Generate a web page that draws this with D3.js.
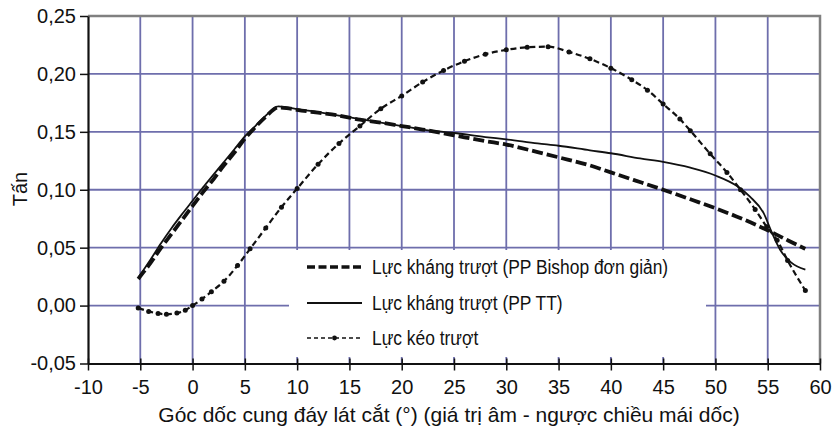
<!DOCTYPE html>
<html>
<head>
<meta charset="utf-8">
<script src="https://cdn.jsdelivr.net/npm/d3@7"></script>
<style>
  body { margin: 0; background: #fff; }
  svg { display: block; }
  text { font-family: "Liberation Sans", Arial, sans-serif; fill: #111; }
</style>
</head>
<body>
<svg width="834" height="431"></svg>
<script>
// values (angle in degrees, force in tonnes)
var angleBishop = [-5.2, -4, -3, -2, -1, 0, 1, 2, 3, 4, 5, 6, 7, 8.2, 9, 10, 12, 14, 16, 18, 20, 22, 25, 28, 30, 33, 35, 38, 40, 43, 45, 48, 50, 52, 55, 57, 58.6];
var forceBishop = [0.023, 0.037, 0.050, 0.062, 0.074, 0.086, 0.098, 0.109, 0.121, 0.132, 0.144, 0.154, 0.163, 0.171, 0.1705, 0.169, 0.1665, 0.164, 0.1605, 0.158, 0.155, 0.152, 0.147, 0.142, 0.139, 0.1325, 0.128, 0.121, 0.115, 0.106, 0.100, 0.0905, 0.084, 0.077, 0.065, 0.056, 0.049];

var angleTT = [-5.2, -4, -3, -2, -1, 0, 1, 2, 3, 4, 5, 6, 7, 8.2, 9, 10, 12, 14, 16, 18, 20, 22, 25, 28, 30, 33, 35, 38, 40, 42.8, 45, 47.6, 50, 52.1, 53.3, 54.6, 55.4, 56.2, 57.2, 58.6];
var forceTT = [0.024, 0.040, 0.054, 0.067, 0.079, 0.0905, 0.102, 0.113, 0.124, 0.135, 0.146, 0.155, 0.164, 0.172, 0.1712, 0.1697, 0.167, 0.164, 0.161, 0.158, 0.155, 0.152, 0.149, 0.1455, 0.1435, 0.140, 0.138, 0.134, 0.1315, 0.127, 0.124, 0.119, 0.1123, 0.103, 0.094, 0.080, 0.063, 0.048, 0.0375, 0.031];

var angleKeo = [-5.2, -4.2, -3.3, -2.5, -1.5, -0.7, 0, 0.9, 1.8, 3, 4.3, 5.5, 7, 8.5, 10, 12, 14, 16, 18, 20, 22, 24, 26, 28, 30, 32, 34, 36, 38, 40, 42, 43.5, 45, 46.6, 47.6, 49.5, 51.1, 52.4, 53.8, 54.9, 55.9, 56.9, 58.6];
var forceKeo = [-0.002, -0.005, -0.0068, -0.0075, -0.0065, -0.004, 0.000, 0.0056, 0.012, 0.021, 0.0346, 0.049, 0.067, 0.085, 0.101, 0.122, 0.140, 0.155, 0.170, 0.181, 0.193, 0.203, 0.211, 0.217, 0.2208, 0.223, 0.2235, 0.219, 0.213, 0.205, 0.195, 0.186, 0.174, 0.161, 0.151, 0.131, 0.115, 0.100, 0.083, 0.068, 0.0565, 0.039, 0.013];

var xTicks = [-10, -5, 0, 5, 10, 15, 20, 25, 30, 35, 40, 45, 50, 55, 60];
var xTickLabels = ['-10', '-5', '0', '5', '10', '15', '20', '25', '30', '35', '40', '45', '50', '55', '60'];
var yTicks = [-0.05, 0, 0.05, 0.10, 0.15, 0.20, 0.25];
var yTickLabels = ['-0,05', '0,00', '0,05', '0,10', '0,15', '0,20', '0,25'];
var legendLabels = ['Lực kháng trượt (PP Bishop đơn giản)', 'Lực kháng trượt (PP TT)', 'Lực kéo trượt'];

var svg = d3.select('svg');
var plotLeft = 88, plotRight = 820, plotTop = 16, plotBottom = 363.5;
var gridColor = '#6e6eac';

var x = d3.scaleLinear().domain([-10, 60]).range([plotLeft, plotRight]);
var y = d3.scaleLinear().domain([-0.05, 0.25]).range([plotBottom, plotTop]);

// grid
svg.append('g').selectAll('line')
   .data(xTicks.filter(function(d) { return d > -10 && d < 60; }))
   .enter().append('line')
     .attr('x1', function(d) { return x(d); })
     .attr('x2', function(d) { return x(d); })
     .attr('y1', y(-0.05))
     .attr('y2', y(0.25))
     .attr('stroke', gridColor)
     .attr('stroke-width', 1.8);

svg.append('g').selectAll('line')
   .data(yTicks.filter(function(d) { return d > -0.05 && d < 0.25; }))
   .enter().append('line')
     .attr('x1', plotLeft)
     .attr('x2', plotRight)
     .attr('y1', function(d) { return y(d); })
     .attr('y2', function(d) { return y(d); })
     .attr('stroke', gridColor)
     .attr('stroke-width', 1.8);

// top and right frame
svg.append('path')
   .attr('d', 'M' + plotLeft + ',' + y(0.25) + 'H' + x(60) + 'V' + y(-0.05))
   .attr('fill', 'none')
   .attr('stroke', '#808080')
   .attr('stroke-width', 2.5);

// legend box hides grid
var legend = svg.append('g');
legend.append('rect')
   .attr('x', 289).attr('y', 250)
   .attr('width', 417).attr('height', 107)
   .attr('fill', '#fff');

// curves
var line = d3.line()
  .x(function(d) { return x(d[0]); })
  .y(function(d) { return y(d[1]); })
  .curve(d3.curveMonotoneX);

var keo = d3.zip(angleKeo, forceKeo);

svg.append('path')
   .attr('d', line(keo))
   .attr('fill', 'none')
   .attr('stroke', '#111')
   .attr('stroke-width', 2.2)
   .attr('stroke-dasharray', '6,3.5');

svg.append('g').selectAll('circle')
   .data(keo)
   .enter().append('circle')
     .attr('cx', function(d) { return x(d[0]); })
     .attr('cy', function(d) { return y(d[1]); })
     .attr('r', 2.5)
     .attr('fill', '#111');

svg.append('path')
   .attr('d', line(d3.zip(angleTT, forceTT)))
   .attr('fill', 'none')
   .attr('stroke', '#111')
   .attr('stroke-width', 1.8);

svg.append('path')
   .attr('d', line(d3.zip(angleBishop, forceBishop)))
   .attr('fill', 'none')
   .attr('stroke', '#111')
   .attr('stroke-width', 3.8)
   .attr('stroke-dasharray', '11,4');

// legend entries
var styles = [
  { width: 3.6, dash: '8,3.5' },
  { width: 1.9, dash: null },
  { width: 1.7, dash: '4,3' }
];
var rowY = [267, 303, 338];

legendLabels.forEach(function(label, i) {
  legend.append('line')
     .attr('x1', 307).attr('x2', 362)
     .attr('y1', rowY[i]).attr('y2', rowY[i])
     .attr('stroke', '#111')
     .attr('stroke-width', styles[i].width)
     .attr('stroke-dasharray', styles[i].dash);
  if (i === 2) {
    legend.append('circle')
       .attr('cx', 334.5).attr('cy', rowY[i]).attr('r', 2.4)
       .attr('fill', '#111');
  }
  legend.append('text')
     .attr('transform', 'translate(372,' + (rowY[i] + 7) + ') scale(0.87,1)')
     .attr('font-size', 20)
     .text(label);
});

// axes
var yAxis = d3.axisLeft(y)
  .tickValues(yTicks)
  .tickFormat(function(d, i) { return yTickLabels[i]; })
  .tickSizeInner(8)
  .tickSizeOuter(0)
  .tickPadding(4);

var gy = svg.append('g').attr('transform', 'translate(' + plotLeft + ',0)').call(yAxis);
gy.attr('font-family', null).attr('font-size', null);
gy.selectAll('text').attr('font-size', 20).attr('fill', '#111');
gy.selectAll('line').attr('stroke', '#111').attr('stroke-width', 1.5);
gy.select('.domain').attr('stroke', '#111').attr('stroke-width', 2.2);

var xAxis = d3.axisBottom(x)
  .tickValues(xTicks)
  .tickFormat(function(d, i) { return xTickLabels[i]; })
  .tickSizeInner(7)
  .tickSizeOuter(0)
  .tickPadding(9);

var gx = svg.append('g').attr('transform', 'translate(0,' + plotBottom + ')').call(xAxis);
gx.attr('font-family', null).attr('font-size', null);
gx.selectAll('text').attr('font-size', 20).attr('fill', '#111');
gx.selectAll('.tick line').attr('y1', -5).attr('stroke', '#111').attr('stroke-width', 1.5);
gx.select('.domain').attr('stroke', '#111').attr('stroke-width', 2.2);

// titles
svg.append('text')
   .attr('x', (plotLeft + plotRight) / 2 - 5)
   .attr('y', 422)
   .attr('text-anchor', 'middle')
   .attr('font-size', 21)
   .text('Góc dốc cung đáy lát cắt (°) (giá trị âm - ngược chiều mái dốc)');

svg.append('text')
   .attr('transform', 'translate(27,189) rotate(-90)')
   .attr('text-anchor', 'middle')
   .attr('font-size', 20)
   .text('Tấn');
</script>
</body>
</html>
